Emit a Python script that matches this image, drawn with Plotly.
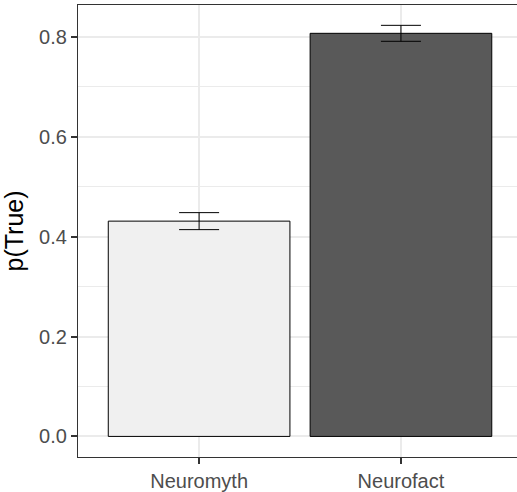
import plotly.graph_objects as go

categories = ["Neuromyth", "Neurofact"]
p_true = [0.431, 0.807]
err_plus = [0.017, 0.016]
err_minus = [0.017, 0.016]
bar_colors = ["#F0F0F0", "#595959"]
y_ticks = [0.0, 0.2, 0.4, 0.6, 0.8]
y_tick_labels = ["0.0", "0.2", "0.4", "0.6", "0.8"]

fig = go.Figure()
fig.add_trace(go.Bar(
    x=categories, y=p_true, width=0.9,
    marker=dict(color=bar_colors, line=dict(color="black", width=1)),
    error_y=dict(type="data", symmetric=False, array=err_plus, arrayminus=err_minus,
                 color="black", thickness=1, width=20),
    showlegend=False,
))

fig.update_layout(
    width=517, height=492,
    margin=dict(l=77.5, r=0, t=4.5, b=33),
    paper_bgcolor="white", plot_bgcolor="white",
    font=dict(family="Liberation Sans, Arial, sans-serif", color="#4D4D4D", size=20),
    bargap=0.1,
)
fig.update_xaxes(
    range=[-0.6, 1.575], showgrid=True, gridcolor="#EBEBEB", gridwidth=1.8,
    showline=True, linecolor="#333333", linewidth=1.2, mirror=True,
    ticks="outside", ticklen=6, tickcolor="#333333", tickwidth=1.5,
    tickfont=dict(size=20, color="#4D4D4D"), zeroline=False,
)
fig.update_yaxes(
    range=[-0.0412, 0.8637], tickvals=y_ticks, ticktext=y_tick_labels,
    showgrid=True, gridcolor="#EBEBEB", gridwidth=1.8,
    minor=dict(dtick=0.1, tick0=0.1, showgrid=True, gridcolor="#EBEBEB", gridwidth=0.9, ticks=""),
    showline=True, linecolor="#333333", linewidth=1.2,
    ticks="outside", ticklen=6, tickcolor="#333333", tickwidth=1.5,
    tickfont=dict(size=20, color="#4D4D4D"), zeroline=False,
    title=dict(text="p(True)", font=dict(size=25, color="black"), standoff=11),
)

fig.write_html("out.html", config={"displayModeBar": False},
               post_script="document.body.style.margin='0';document.body.style.overflow='hidden';")
